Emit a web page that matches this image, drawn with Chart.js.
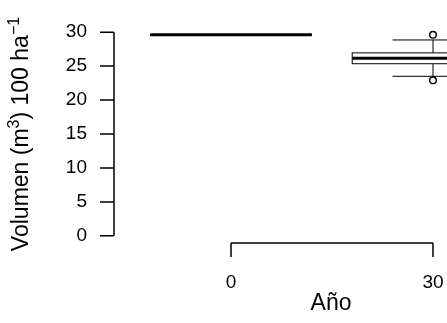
<!DOCTYPE html>
<html>
<head>
<meta charset="utf-8">
<script src="https://cdn.jsdelivr.net/npm/chart.js@4/dist/chart.umd.min.js"></script>
<style>
  html, body { margin: 0; padding: 0; background: #fff; }
  #wrap { width: 447px; height: 323px; }
</style>
</head>
<body>
<div id="wrap"><canvas id="chart"></canvas></div>
<script>
const years = [0, 30];
const whiskerLow = [29.6, 23.5];
const q1 = [29.6, 25.35];
const medians = [29.6, 26.15];
const q3 = [29.6, 26.95];
const whiskerHigh = [29.6, 28.85];
const outlierYears = [30, 30];
const outlierValues = [29.6, 22.9];
const yTicks = [0, 5, 10, 15, 20, 25, 30];
const xTicks = [0, 30];
const boxWidth = 24; // in years, R boxplot at=c(0,30)

const FONT = '"Liberation Sans", Arial, sans-serif';

const boxPlugin = {
    id: 'boxes',
    beforeDatasetsDraw(chart) {
        const { ctx, scales: { x, y } } = chart;
        ctx.save();
        ctx.strokeStyle = '#000';
        years.forEach((yr, i) => {
            const xl = x.getPixelForValue(yr - boxWidth / 2);
            const xr = x.getPixelForValue(yr + boxWidth / 2);
            const sl = x.getPixelForValue(yr - boxWidth / 4);
            const sr = x.getPixelForValue(yr + boxWidth / 4);
            const xc = x.getPixelForValue(yr);
            const yq1 = y.getPixelForValue(q1[i]);
            const yq3 = y.getPixelForValue(q3[i]);
            const ylo = y.getPixelForValue(whiskerLow[i]);
            const yhi = y.getPixelForValue(whiskerHigh[i]);
            const ymed = y.getPixelForValue(medians[i]);
            ctx.lineWidth = 1;
            // whiskers
            ctx.beginPath();
            ctx.moveTo(xc, yq3); ctx.lineTo(xc, yhi);
            ctx.moveTo(xc, yq1); ctx.lineTo(xc, ylo);
            ctx.moveTo(sl, yhi); ctx.lineTo(sr, yhi);
            ctx.moveTo(sl, ylo); ctx.lineTo(sr, ylo);
            ctx.stroke();
            // box
            ctx.fillStyle = '#fff';
            ctx.fillRect(xl, yq3, xr - xl, yq1 - yq3);
            ctx.strokeRect(xl, yq3, xr - xl, yq1 - yq3);
            // median
            ctx.lineWidth = 3;
            ctx.beginPath();
            ctx.moveTo(xl, ymed); ctx.lineTo(xr, ymed);
            ctx.stroke();
        });
        ctx.restore();
    }
};

const axesPlugin = {
    id: 'rAxes',
    afterDraw(chart) {
        const { ctx, chartArea, scales: { x, y } } = chart;
        ctx.save();
        ctx.strokeStyle = '#000';
        ctx.fillStyle = '#000';
        ctx.lineWidth = 1.5;

        // y axis
        const ax = chartArea.left;
        ctx.beginPath();
        ctx.moveTo(ax, y.getPixelForValue(yTicks[0]));
        ctx.lineTo(ax, y.getPixelForValue(yTicks[yTicks.length - 1]));
        yTicks.forEach(t => {
            const py = y.getPixelForValue(t);
            ctx.moveTo(ax, py); ctx.lineTo(ax - 14, py);
        });
        ctx.stroke();
        ctx.font = '19px ' + FONT;
        ctx.textAlign = 'right';
        ctx.textBaseline = 'middle';
        yTicks.forEach(t => ctx.fillText(String(t), 87, y.getPixelForValue(t)));

        // x axis
        const ay = chartArea.bottom - 1;
        ctx.beginPath();
        ctx.moveTo(x.getPixelForValue(xTicks[0]), ay);
        ctx.lineTo(x.getPixelForValue(xTicks[xTicks.length - 1]), ay);
        xTicks.forEach(t => {
            const px = x.getPixelForValue(t);
            ctx.moveTo(px, ay); ctx.lineTo(px, ay + 14);
        });
        ctx.stroke();
        ctx.textAlign = 'center';
        xTicks.forEach(t => ctx.fillText(String(t), x.getPixelForValue(t), 283));

        // axis titles
        ctx.font = '23px ' + FONT;
        ctx.fillText('Año', 331, 304);

        // y title with superscripts
        const parts = [
            { t: 'Volumen (m', sup: false },
            { t: '3', sup: true },
            { t: ') 100 ha', sup: false },
            { t: '\u22121', sup: true }
        ];
        const big = '23px ' + FONT, small = '16px ' + FONT;
        let total = 0;
        parts.forEach(p => { ctx.font = p.sup ? small : big; p.w = ctx.measureText(p.t).width; total += p.w; });
        ctx.translate(20, 134);
        ctx.rotate(-Math.PI / 2);
        ctx.textAlign = 'left';
        ctx.textBaseline = 'alphabetic';
        let cx = -total / 2;
        parts.forEach(p => {
            ctx.font = p.sup ? small : big;
            ctx.fillText(p.t, cx, p.sup ? -1 : 8);
            cx += p.w;
        });
        ctx.restore();
    }
};

new Chart(document.getElementById('chart'), {
    type: 'scatter',
    data: {
        datasets: [{
            data: outlierYears.map((yr, i) => ({ x: yr, y: outlierValues[i] })),
            pointStyle: 'circle',
            pointRadius: 3.3,
            pointBorderWidth: 1.4,
            pointBorderColor: '#000',
            pointBackgroundColor: '#fff'
        }]
    },
    options: {
        responsive: true,
        maintainAspectRatio: false,
        animation: false,
        layout: { autoPadding: false, padding: { left: 114, right: 0, top: 24, bottom: 79 } },
        plugins: { legend: { display: false }, tooltip: { enabled: false } },
        scales: {
            x: { type: 'linear', min: -17.38, max: 32.08, display: false },
            y: { min: -1.2, max: 31.2, display: false }
        }
    },
    plugins: [boxPlugin, axesPlugin]
});
</script>
</body>
</html>
